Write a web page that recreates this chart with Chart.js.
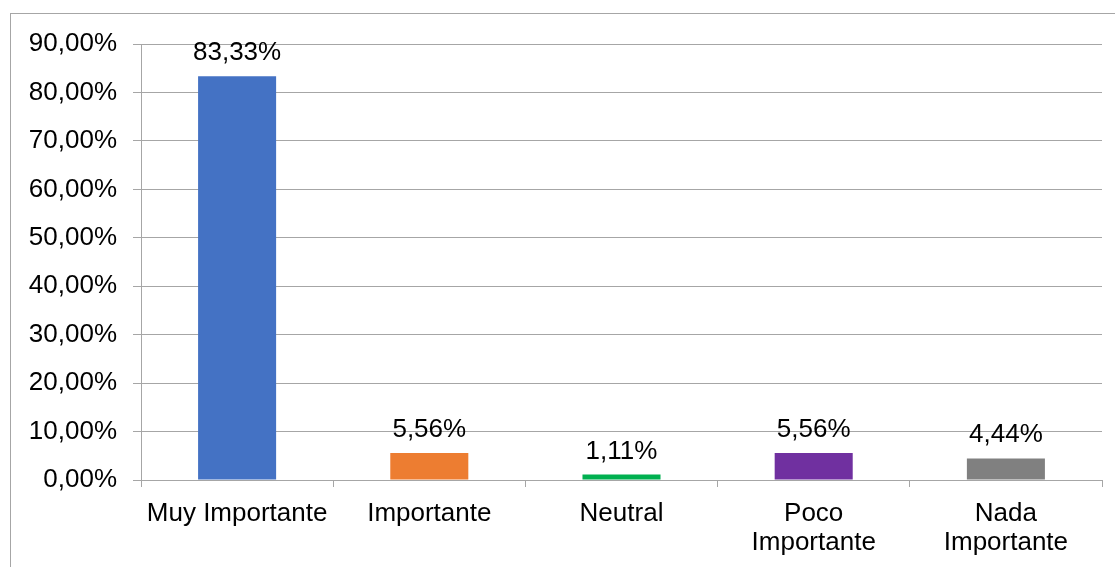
<!DOCTYPE html>
<html>
<head>
<meta charset="utf-8">
<script src="https://cdn.jsdelivr.net/npm/chart.js@4.4.0/dist/chart.umd.min.js"></script>
<style>
  html, body { margin: 0; padding: 0; background: #fff; }
  #wrap { position: relative; width: 1115px; height: 567px; overflow: hidden; }
  #marco { position: absolute; left: 10px; top: 13px; right: 0; bottom: 0;
           border-left: 1px solid #a6a6a6; border-top: 1px solid #a6a6a6; }
  #grafico { position: absolute; left: 0; top: 0; }
</style>
</head>
<body>
<div id="wrap">
  <div id="marco"></div>
  <canvas id="grafico" width="1115" height="567"></canvas>
</div>
<script>
// Datos de la encuesta (porcentaje de respuestas)
const categorias = ['Muy Importante', 'Importante', 'Neutral', ['Poco', 'Importante'], ['Nada', 'Importante']];
const porcentajes = [83.33, 5.56, 1.11, 5.56, 4.44];
const colores = ['#4472C4', '#ED7D31', '#00B050', '#7030A0', '#808080'];
const ejeMin = 0;
const ejeMax = 90;
const ejePaso = 10;

const FUENTE = '"Liberation Sans", Arial, sans-serif';
const GRIS = '#a6a6a6';

// 83.33 -> "83,33%"
function formatoPct(v) {
    return v.toFixed(2).replace('.', ',') + '%';
}

// Etiqueta de valor encima de cada barra
const etiquetasValor = {
    id: 'etiquetasValor',
    afterDatasetsDraw(chart) {
        const ctx = chart.ctx;
        const meta = chart.getDatasetMeta(0);
        ctx.save();
        ctx.font = '26px ' + FUENTE;
        ctx.fillStyle = '#000';
        ctx.textAlign = 'center';
        ctx.textBaseline = 'alphabetic';
        meta.data.forEach((barra, i) => {
            ctx.fillText(formatoPct(porcentajes[i]), barra.x, barra.y - 16);
        });
        ctx.restore();
    }
};

Chart.defaults.font.family = FUENTE;
Chart.defaults.color = '#000';

new Chart(document.getElementById('grafico'), {
    type: 'bar',
    data: {
        labels: categorias,
        datasets: [{
            data: porcentajes,
            backgroundColor: colores,
            borderWidth: 0,
            categoryPercentage: 1,
            barPercentage: 0.406
        }]
    },
    options: {
        responsive: false,
        animation: false,
        layout: {
            padding: { top: 44, right: 13, left: 0, bottom: 0 }
        },
        plugins: {
            legend: { display: false },
            tooltip: { enabled: false }
        },
        scales: {
            x: {
                grid: {
                    offset: true,
                    drawOnChartArea: false,
                    drawTicks: true,
                    tickLength: 7,
                    color: GRIS
                },
                border: { color: GRIS },
                ticks: {
                    padding: 13,
                    maxRotation: 0,
                    autoSkip: false,
                    font: { size: 26, lineHeight: 1.1 }
                },
                afterFit(scale) { scale.height = 87; }
            },
            y: {
                min: ejeMin,
                max: ejeMax,
                ticks: {
                    stepSize: ejePaso,
                    padding: 16,
                    font: { size: 26 },
                    callback: v => formatoPct(v)
                },
                grid: { color: GRIS, tickLength: 8 },
                border: { color: GRIS },
                afterFit(scale) { scale.width = 141; }
            }
        }
    },
    plugins: [etiquetasValor]
});
</script>
</body>
</html>
